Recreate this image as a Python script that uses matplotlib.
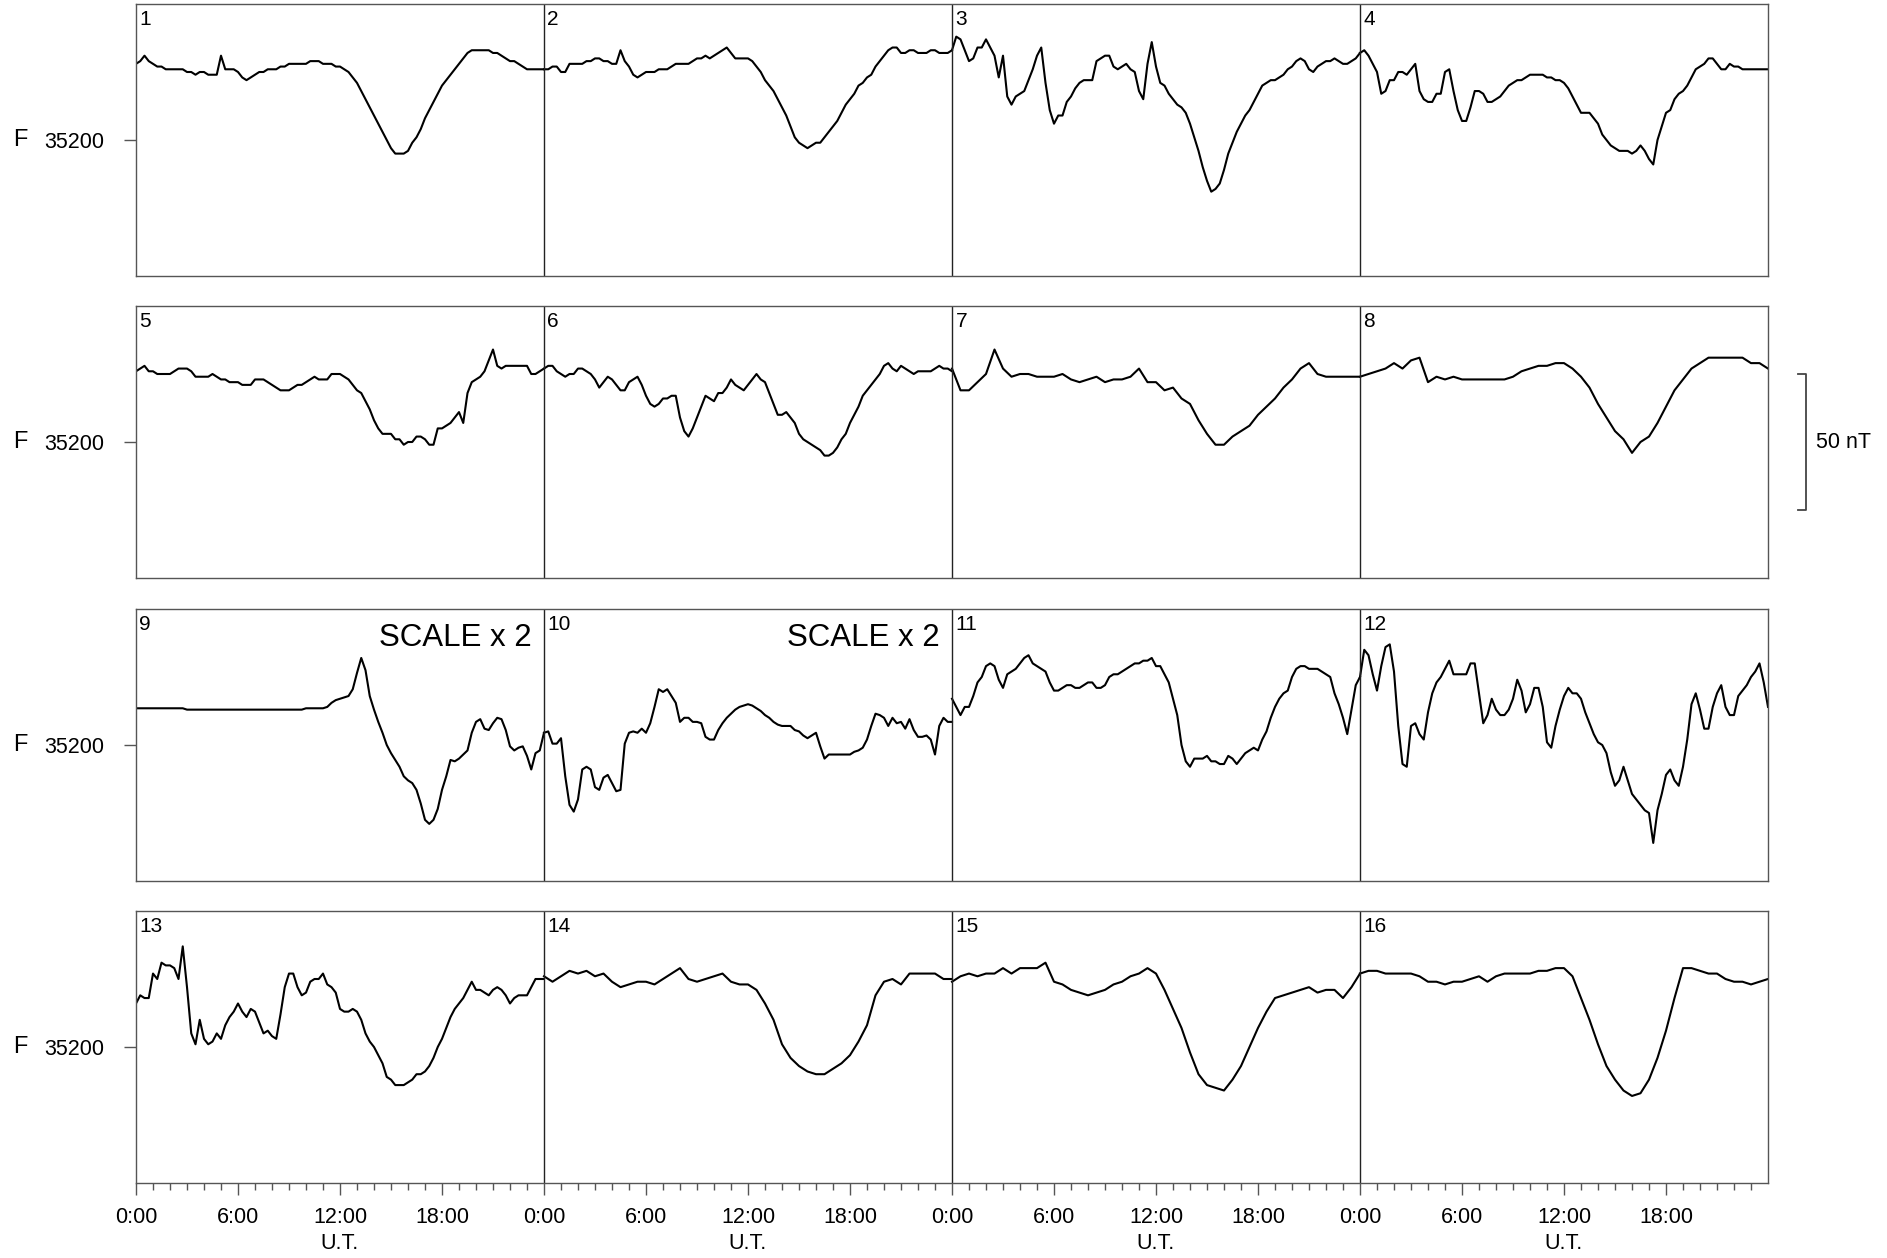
import numpy as np
import matplotlib
matplotlib.use("Agg")
import matplotlib.pyplot as plt
from matplotlib.transforms import blended_transform_factory

plt.rcParams['font.family'] = ['Liberation Sans', 'DejaVu Sans']

# Total field F (nT) for each day, evenly spaced from 0:00 to 24:00 U.T.
# (quarter-hourly on disturbed days, half-hourly on quiet days)
day01 = [35228, 35229, 35231, 35229, 35228, 35227, 35227, 35226,
         35226, 35226, 35226, 35226, 35225, 35225, 35224, 35225,
         35225, 35224, 35224, 35224, 35231, 35226, 35226, 35226,
         35225, 35223, 35222, 35223, 35224, 35225, 35225, 35226,
         35226, 35226, 35227, 35227, 35228, 35228, 35228, 35228,
         35228, 35229, 35229, 35229, 35228, 35228, 35228, 35227,
         35227, 35226, 35225, 35223, 35221, 35218, 35215, 35212,
         35209, 35206, 35203, 35200, 35197, 35195, 35195, 35195,
         35196, 35199, 35201, 35204, 35208, 35211, 35214, 35217,
         35220, 35222, 35224, 35226, 35228, 35230, 35232, 35233,
         35233, 35233, 35233, 35233, 35232, 35232, 35231, 35230,
         35229, 35229, 35228, 35227, 35226, 35226, 35226, 35226,
         35226]
day02 = [35226, 35226, 35227, 35227, 35225, 35225, 35228, 35228,
         35228, 35228, 35229, 35229, 35230, 35230, 35229, 35229,
         35228, 35228, 35233, 35229, 35227, 35224, 35223, 35224,
         35225, 35225, 35225, 35226, 35226, 35226, 35227, 35228,
         35228, 35228, 35228, 35229, 35230, 35230, 35231, 35230,
         35231, 35232, 35233, 35234, 35232, 35230, 35230, 35230,
         35230, 35229, 35227, 35225, 35222, 35220, 35218, 35215,
         35212, 35209, 35205, 35201, 35199, 35198, 35197, 35198,
         35199, 35199, 35201, 35203, 35205, 35207, 35210, 35213,
         35215, 35217, 35220, 35221, 35223, 35224, 35227, 35229,
         35231, 35233, 35234, 35234, 35232, 35232, 35233, 35233,
         35232, 35232, 35232, 35233, 35233, 35232, 35232, 35232,
         35233]
day03 = [35233, 35238, 35237, 35233, 35229, 35230, 35234, 35234,
         35237, 35234, 35231, 35223, 35231, 35216, 35213, 35216,
         35217, 35218, 35222, 35226, 35231, 35234, 35221, 35211,
         35206, 35209, 35209, 35214, 35216, 35219, 35221, 35222,
         35222, 35222, 35229, 35230, 35231, 35231, 35227, 35226,
         35227, 35228, 35226, 35225, 35218, 35215, 35228, 35236,
         35227, 35221, 35220, 35217, 35215, 35213, 35212, 35210,
         35206, 35201, 35196, 35190, 35185, 35181, 35182, 35184,
         35189, 35195, 35199, 35203, 35206, 35209, 35211, 35214,
         35217, 35220, 35221, 35222, 35222, 35223, 35224, 35226,
         35227, 35229, 35230, 35229, 35226, 35225, 35227, 35228,
         35229, 35229, 35230, 35229, 35228, 35228, 35229, 35230,
         35232]
day04 = [35232, 35233, 35231, 35228, 35225, 35217, 35218, 35222,
         35222, 35225, 35225, 35224, 35226, 35228, 35218, 35215,
         35214, 35214, 35217, 35217, 35225, 35226, 35218, 35211,
         35207, 35207, 35212, 35218, 35218, 35217, 35214, 35214,
         35215, 35216, 35218, 35220, 35221, 35222, 35222, 35223,
         35224, 35224, 35224, 35224, 35223, 35223, 35222, 35222,
         35221, 35219, 35216, 35213, 35210, 35210, 35210, 35208,
         35206, 35202, 35200, 35198, 35197, 35196, 35196, 35196,
         35195, 35196, 35198, 35196, 35193, 35191, 35200, 35205,
         35210, 35211, 35215, 35217, 35218, 35220, 35223, 35226,
         35227, 35228, 35230, 35230, 35228, 35226, 35226, 35228,
         35227, 35227, 35226, 35226, 35226, 35226, 35226, 35226,
         35226]
day05 = [35226, 35227, 35228, 35226, 35226, 35225, 35225, 35225,
         35225, 35226, 35227, 35227, 35227, 35226, 35224, 35224,
         35224, 35224, 35225, 35224, 35223, 35223, 35222, 35222,
         35222, 35221, 35221, 35221, 35223, 35223, 35223, 35222,
         35221, 35220, 35219, 35219, 35219, 35220, 35221, 35221,
         35222, 35223, 35224, 35223, 35223, 35223, 35225, 35225,
         35225, 35224, 35223, 35221, 35219, 35218, 35215, 35212,
         35208, 35205, 35203, 35203, 35203, 35201, 35201, 35199,
         35200, 35200, 35202, 35202, 35201, 35199, 35199, 35205,
         35205, 35206, 35207, 35209, 35211, 35207, 35218, 35222,
         35223, 35224, 35226, 35230, 35234, 35228, 35227, 35228,
         35228, 35228, 35228, 35228, 35228, 35225, 35225, 35226,
         35227]
day06 = [35227, 35228, 35228, 35226, 35225, 35224, 35225, 35225,
         35227, 35227, 35226, 35225, 35223, 35220, 35222, 35224,
         35223, 35221, 35219, 35219, 35222, 35223, 35224, 35221,
         35217, 35214, 35213, 35214, 35216, 35216, 35217, 35217,
         35209, 35204, 35202, 35205, 35209, 35213, 35217, 35216,
         35215, 35218, 35218, 35220, 35223, 35221, 35220, 35219,
         35221, 35223, 35225, 35223, 35222, 35218, 35214, 35210,
         35210, 35211, 35209, 35207, 35203, 35201, 35200, 35199,
         35198, 35197, 35195, 35195, 35196, 35198, 35201, 35203,
         35207, 35210, 35213, 35217, 35219, 35221, 35223, 35225,
         35228, 35229, 35227, 35226, 35228, 35227, 35226, 35225,
         35226, 35226, 35226, 35226, 35227, 35228, 35227, 35227,
         35226]
day07 = [35227, 35219, 35219, 35222, 35225, 35234, 35227, 35224, 35225, 35225,
         35224, 35224, 35224, 35225, 35223, 35222, 35223, 35224, 35222, 35223,
         35223, 35224, 35227, 35222, 35222, 35219, 35220, 35216, 35214, 35208,
         35203, 35199, 35199, 35202, 35204, 35206, 35210, 35213, 35216, 35220,
         35223, 35227, 35229, 35225, 35224, 35224, 35224, 35224, 35224]
day08 = [35224, 35225, 35226, 35227, 35229, 35227, 35230, 35231, 35222, 35224,
         35223, 35224, 35223, 35223, 35223, 35223, 35223, 35223, 35224, 35226,
         35227, 35228, 35228, 35229, 35229, 35227, 35224, 35220, 35214, 35209,
         35204, 35201, 35196, 35200, 35202, 35207, 35213, 35219, 35223, 35227,
         35229, 35231, 35231, 35231, 35231, 35231, 35229, 35229, 35227]
day09 = [35227, 35227, 35227, 35227, 35227, 35227, 35227, 35227,
         35227, 35227, 35227, 35227, 35226, 35226, 35226, 35226,
         35226, 35226, 35226, 35226, 35226, 35226, 35226, 35226,
         35226, 35226, 35226, 35226, 35226, 35226, 35226, 35226,
         35226, 35226, 35226, 35226, 35226, 35226, 35226, 35226,
         35227, 35227, 35227, 35227, 35227, 35228, 35231, 35233,
         35234, 35235, 35236, 35241, 35253, 35264, 35255, 35236,
         35226, 35217, 35209, 35200, 35194, 35189, 35184, 35177,
         35174, 35172, 35167, 35157, 35145, 35142, 35145, 35153,
         35167, 35177, 35189, 35188, 35190, 35193, 35196, 35209,
         35217, 35219, 35212, 35211, 35216, 35220, 35219, 35211,
         35199, 35196, 35198, 35199, 35192, 35182, 35194, 35196,
         35209]
day10 = [35209, 35210, 35201, 35201, 35205, 35177, 35156, 35151,
         35160, 35182, 35184, 35182, 35169, 35167, 35176, 35178,
         35172, 35166, 35167, 35201, 35209, 35210, 35209, 35212,
         35209, 35216, 35228, 35241, 35239, 35241, 35236, 35231,
         35217, 35220, 35220, 35217, 35217, 35216, 35206, 35204,
         35204, 35211, 35216, 35220, 35223, 35226, 35228, 35229,
         35230, 35229, 35227, 35225, 35222, 35220, 35217, 35215,
         35214, 35214, 35214, 35211, 35210, 35207, 35205, 35207,
         35209, 35199, 35190, 35193, 35193, 35193, 35193, 35193,
         35193, 35195, 35196, 35198, 35204, 35214, 35223, 35222,
         35220, 35214, 35220, 35216, 35217, 35212, 35219, 35211,
         35206, 35206, 35207, 35204, 35193, 35214, 35220, 35217,
         35217]
day11 = [35217, 35214, 35211, 35214, 35214, 35218, 35223, 35225,
         35229, 35230, 35229, 35224, 35221, 35226, 35227, 35228,
         35230, 35232, 35233, 35230, 35229, 35228, 35227, 35223,
         35220, 35220, 35221, 35222, 35222, 35221, 35221, 35222,
         35223, 35223, 35221, 35221, 35222, 35225, 35226, 35226,
         35227, 35228, 35229, 35230, 35230, 35231, 35231, 35232,
         35229, 35229, 35226, 35223, 35217, 35211, 35200, 35194,
         35192, 35195, 35195, 35195, 35196, 35194, 35194, 35193,
         35193, 35196, 35195, 35193, 35195, 35197, 35198, 35199,
         35198, 35202, 35205, 35210, 35214, 35217, 35219, 35220,
         35225, 35228, 35229, 35229, 35228, 35228, 35228, 35227,
         35226, 35225, 35219, 35215, 35210, 35204, 35213, 35222,
         35225]
day12 = [35225, 35235, 35233, 35226, 35220, 35229, 35236, 35237,
         35227, 35207, 35193, 35192, 35207, 35208, 35204, 35202,
         35212, 35219, 35223, 35225, 35228, 35231, 35226, 35226,
         35226, 35226, 35230, 35230, 35219, 35208, 35211, 35217,
         35213, 35211, 35211, 35213, 35217, 35224, 35220, 35212,
         35215, 35221, 35221, 35214, 35201, 35199, 35207, 35213,
         35218, 35221, 35219, 35219, 35217, 35212, 35208, 35204,
         35201, 35200, 35197, 35190, 35185, 35187, 35192, 35187,
         35182, 35180, 35178, 35176, 35175, 35164, 35176, 35182,
         35189, 35191, 35187, 35185, 35192, 35202, 35215, 35219,
         35213, 35206, 35206, 35214, 35219, 35222, 35214, 35211,
         35211, 35218, 35220, 35222, 35225, 35227, 35230, 35223,
         35214]
day13 = [35216, 35219, 35218, 35218, 35227, 35225, 35231, 35230,
         35230, 35229, 35225, 35237, 35222, 35205, 35201, 35210,
         35203, 35201, 35202, 35205, 35203, 35208, 35211, 35213,
         35216, 35213, 35211, 35214, 35213, 35209, 35205, 35206,
         35204, 35203, 35212, 35222, 35227, 35227, 35222, 35219,
         35220, 35224, 35225, 35225, 35227, 35223, 35222, 35220,
         35214, 35213, 35213, 35214, 35213, 35210, 35205, 35202,
         35200, 35197, 35194, 35189, 35188, 35186, 35186, 35186,
         35187, 35188, 35190, 35190, 35191, 35193, 35196, 35200,
         35203, 35207, 35211, 35214, 35216, 35218, 35221, 35224,
         35221, 35221, 35220, 35219, 35221, 35222, 35221, 35219,
         35216, 35218, 35219, 35219, 35219, 35222, 35225, 35225,
         35225]
day14 = [35226, 35224, 35226, 35228, 35227, 35228, 35226, 35227, 35224, 35222,
         35223, 35224, 35224, 35223, 35225, 35227, 35229, 35225, 35224, 35225,
         35226, 35227, 35224, 35223, 35223, 35221, 35216, 35210, 35201, 35196,
         35193, 35191, 35190, 35190, 35192, 35194, 35197, 35202, 35208, 35219,
         35224, 35225, 35223, 35227, 35227, 35227, 35227, 35225, 35225]
day15 = [35224, 35226, 35227, 35226, 35227, 35227, 35229, 35227, 35229, 35229,
         35229, 35231, 35224, 35223, 35221, 35220, 35219, 35220, 35221, 35223,
         35224, 35226, 35227, 35229, 35227, 35221, 35214, 35207, 35198, 35190,
         35186, 35185, 35184, 35188, 35193, 35200, 35207, 35213, 35218, 35219,
         35220, 35221, 35222, 35220, 35221, 35221, 35218, 35222, 35227]
day16 = [35227, 35228, 35228, 35227, 35227, 35227, 35227, 35226, 35224, 35224,
         35223, 35224, 35224, 35225, 35226, 35224, 35226, 35227, 35227, 35227,
         35227, 35228, 35228, 35229, 35229, 35226, 35218, 35210, 35201, 35193,
         35188, 35184, 35182, 35183, 35188, 35196, 35206, 35218, 35229, 35229,
         35228, 35227, 35227, 35225, 35224, 35224, 35223, 35224, 35225]

DAYS = [day01, day02, day03, day04, day05, day06, day07, day08,
        day09, day10, day11, day12, day13, day14, day15, day16]
DAY_NUMBERS = [str(i) for i in range(1, 17)]
SCALE_FACTOR = {9: 2, 10: 2}          # days drawn with a compressed scale
BASELINE = 35200
Y_MIN, Y_MAX = 35150, 35250
TIME_LABELS = ['0:00', '6:00', '12:00', '18:00']
UNIT_LABEL = 'U.T.'
BAR_NT = 50

W, H = 1887, 1258
fig = plt.figure(figsize=(W / 100, H / 100), dpi=100)

left_px, right_px = 136, 1768
row_tops = [4, 306, 609, 911]
row_h = 272
frame_col = '#555555'

axes = []
for r, top in enumerate(row_tops):
    ax = fig.add_axes([left_px / W, 1 - (top + row_h) / H,
                       (right_px - left_px) / W, row_h / H])
    ax.set_xlim(0, 96)
    ax.set_ylim(Y_MIN, Y_MAX)
    for s in ax.spines.values():
        s.set_color(frame_col)
        s.set_linewidth(1.0)
    for c in range(4):
        d = 4 * r + c + 1
        vals = np.asarray(DAYS[d - 1], dtype=float)
        hours = np.linspace(0, 24, len(vals))
        k = SCALE_FACTOR.get(d, 1)
        ax.plot(24 * c + hours, BASELINE + (vals - BASELINE) / k,
                color='black', lw=1.5, solid_joinstyle='round')
        if c > 0:
            ax.axvline(24 * c, color='#222222', lw=1.0)
        ax.text(24 * c + 0.2, Y_MAX - 2.3, DAY_NUMBERS[d - 1],
                ha='left', va='top', fontsize=15)
        if k != 1:
            ax.text(24 * c + 23.3, 35239.5, f'SCALE x {k}',
                    ha='right', va='center', fontsize=22.5)
    # single reference level on the left
    ax.set_yticks([BASELINE])
    ax.set_yticklabels([str(BASELINE)])
    ax.tick_params(axis='y', direction='out', length=9, width=1.0,
                   color=frame_col, labelsize=15.5, pad=14)
    ax.text(-0.071, BASELINE, 'F',
            transform=blended_transform_factory(ax.transAxes, ax.transData),
            ha='center', va='center', fontsize=17)
    ax.set_xticks([])
    axes.append(ax)

# time axis on the bottom row
axb = axes[-1]
major = np.arange(0, 96, 6)
axb.set_xticks(major)
axb.set_xticklabels([TIME_LABELS[i % 4] for i in range(len(major))])
axb.set_xticks(np.arange(0, 96, 1), minor=True)
axb.tick_params(axis='x', which='major', direction='out', length=8.5, width=1.0,
                color=frame_col, labelsize=15.5, pad=9)
axb.tick_params(axis='x', which='minor', direction='out', length=5, width=1.0,
                color=frame_col)
xt = axb.get_xaxis_transform()
for c in range(4):
    axb.text(24 * c + 12, -0.222, UNIT_LABEL, transform=xt,
             ha='center', va='center', fontsize=15.5)

# amplitude bar beside the second row
ax2 = axes[1]
bt = blended_transform_factory(ax2.transAxes, ax2.transData)
x_bar = (1806 - left_px) / (right_px - left_px)
x_end = (1798 - left_px) / (right_px - left_px)
lo, hi = BASELINE - BAR_NT / 2, BASELINE + BAR_NT / 2
ax2.plot([x_end, x_bar, x_bar, x_end], [hi, hi, lo, lo], transform=bt,
         color='#444444', lw=1.3, clip_on=False)
ax2.text(x_bar + 0.006, BASELINE, f'{BAR_NT} nT', transform=bt,
         ha='left', va='center', fontsize=15.5)

fig.savefig('out.png', dpi=100, facecolor='white')
